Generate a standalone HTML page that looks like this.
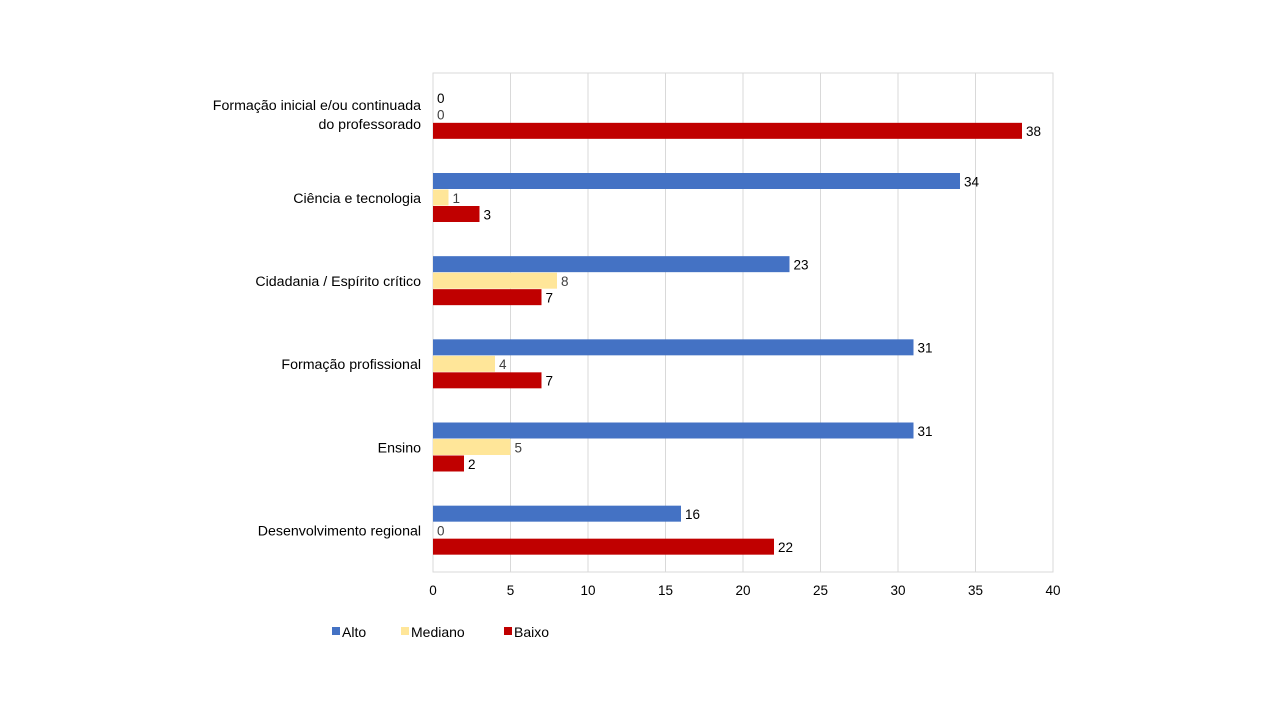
<!DOCTYPE html>
<html><head><meta charset="utf-8"><style>
body{margin:0;background:#fff;width:1280px;height:720px;overflow:hidden;font-family:"Liberation Sans",sans-serif}
</style></head><body>
<svg id="c" width="1280" height="720"></svg>
<script>
const categories=["Formação inicial e/ou continuada|do professorado","Ciência e tecnologia","Cidadania / Espírito crítico","Formação profissional","Ensino","Desenvolvimento regional"];
const alto=[0,34,23,31,31,16];
const mediano=[0,1,8,4,5,0];
const baixo=[38,3,7,7,2,22];
const ticks=[0,5,10,15,20,25,30,35,40];
const series=[["Alto",alto,"#4472c4"],["Mediano",mediano,"#ffe699"],["Baixo",baixo,"#c00000"]];
const L=433,R=1053,T=73,B=572,xmax=40;
const x=v=>L+(R-L)*v/xmax;
const band=(B-T)/categories.length;
const svg=document.getElementById('c');
const NS="http://www.w3.org/2000/svg";
function mk(t,a,txt){const e=document.createElementNS(NS,t);for(const k in a)e.setAttribute(k,a[k]);if(txt!=null)e.textContent=txt;svg.appendChild(e);return e;}
ticks.forEach(t=>{
 const g=mk('line',{x1:x(t),x2:x(t),y1:T,y2:B,stroke:'#d9d9d9','stroke-width':1});
 
 
 const l=mk('text',{x:x(t),y:B+23,'text-anchor':'middle','font-size':13.5,fill:'#000'},t);
 
 
});
const fr=mk('rect',{x:L,y:T,width:R-L,height:B-T,fill:'none',stroke:'#d9d9d9'});


const bh=16.5;
categories.forEach((c,i)=>{
 const cy=T+band*(i+0.5);
 const lines=c.split('|');
 lines.forEach((ln,j)=>{
  const t=mk('text',{x:421,y:cy+5+(j-(lines.length-1)/2)*19,'text-anchor':'end','font-size':14.2,fill:'#000'},ln);
  
  
 });
 series.forEach((s,k)=>{
  const v=s[1][i];
  const y0=cy-1.5*bh+k*bh;
  const r=mk('rect',{x:L,y:y0,width:x(v)-L,height:bh-0.5,fill:s[2]});
  
  
  const t=mk('text',{x:x(v)+4,y:y0+bh/2+5,'font-size':13.5,fill:k==1?'#404040':'#000'},v);
  
  
 });
});
const lx=[332,401,504];
series.forEach((s,k)=>{
 const r=mk('rect',{x:lx[k],y:627,width:8,height:8,fill:s[2]});
 
 
 const t=mk('text',{x:lx[k]+10,y:637,'font-size':14,fill:'#000'},s[0]);
 
 
});
</script>
</body></html>
